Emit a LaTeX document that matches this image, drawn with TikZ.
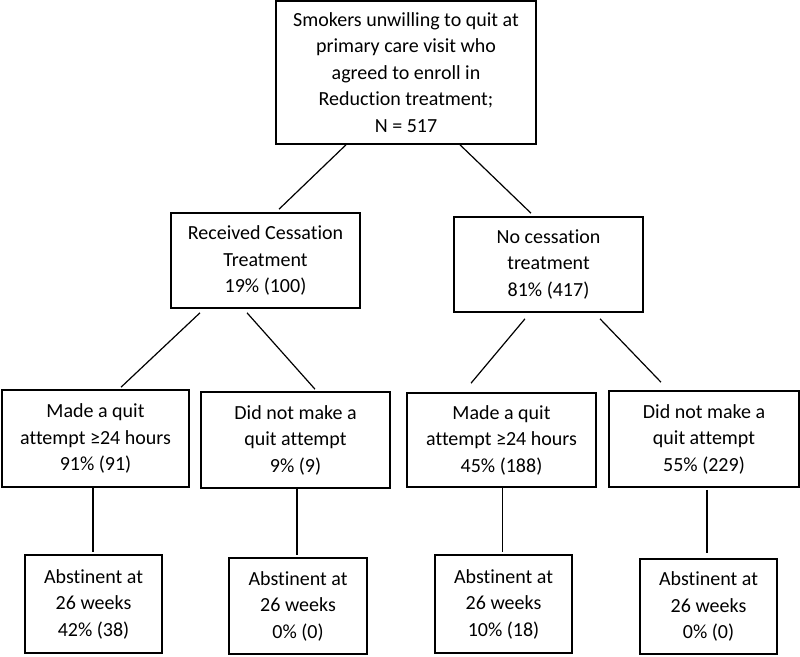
\documentclass[tikz,border=0pt]{standalone}
\usepackage{fontspec}
\setmainfont{Carlito}[Ligatures={NoCommon,NoContextual}]
\usetikzlibrary{calc}
\begin{document}
\begin{tikzpicture}[x=1pt,y=-1pt,
  box/.style={draw=black,line width=1.6pt,fill=white,inner sep=0pt,align=center,
    font=\fontsize{20}{26.5}\selectfont},
  conn/.style={draw=black,line width=1.2pt}]
\useasboundingbox (0,0) rectangle (800,656);
% boxes
\node[box,minimum width=260pt,minimum height=143pt] (top) at (406,72.5)
  {Smokers unwilling to quit at\\primary care visit who\\agreed to enroll in\\Reduction treatment;\\N = 517};
\node[box,minimum width=189pt,minimum height=95pt] (rec) at (265.5,260.5)
  {Received Cessation\\Treatment\\19\% (100)};
\node[box,minimum width=189pt,minimum height=95pt] (noc) at (548.5,264.5)
  {No cessation\\treatment\\81\% (417)};
\node[box,minimum width=187pt,minimum height=97pt] (m1) at (95.5,438.5)
  {Made a quit\\attempt ≥24 hours\\91\% (91)};
\node[box,minimum width=189pt,minimum height=96pt] (d1) at (295.5,440)
  {Did not make a\\quit attempt\\9\% (9)};
\node[box,minimum width=189pt,minimum height=94pt] (m2) at (501.5,440)
  {Made a quit\\attempt ≥24 hours\\45\% (188)};
\node[box,minimum width=190pt,minimum height=96pt] (d2) at (704,439)
  {Did not make a\\quit attempt\\55\% (229)};
\node[box,minimum width=137pt,minimum height=98pt] (a1) at (93.5,604)
  {Abstinent at\\26 weeks\\42\% (38)};
\node[box,minimum width=138pt,minimum height=96pt] (a2) at (298,606)
  {Abstinent at\\26 weeks\\0\% (0)};
\node[box,minimum width=137pt,minimum height=98pt] (a3) at (503.5,604)
  {Abstinent at\\26 weeks\\10\% (18)};
\node[box,minimum width=137pt,minimum height=95pt] (a4) at (708.5,606.5)
  {Abstinent at\\26 weeks\\0\% (0)};
% connectors
\draw[conn] ([xshift=-60pt]top.south) -- ([xshift=13.5pt,yshift=3pt]rec.north);
\draw[conn] ([xshift=54pt]top.south) -- ([xshift=-17.5pt,yshift=3pt]noc.north);
\draw[conn] ([xshift=-65.5pt,yshift=-4pt]rec.south) -- ([xshift=25.5pt,yshift=2pt]m1.north);
\draw[conn] ([xshift=-18.5pt,yshift=-4pt]rec.south) -- ([xshift=19.5pt,yshift=2pt]d1.north);
\draw[conn] ([xshift=-23.5pt,yshift=-6pt]noc.south) -- ([xshift=-30.5pt,yshift=9pt]m2.north);
\draw[conn] ([xshift=51.5pt,yshift=-6pt]noc.south) -- ([xshift=-43pt,yshift=8pt]d2.north);
\draw[conn] ([xshift=-2.5pt]m1.south) -- ([xshift=-0.5pt,yshift=2pt]a1.north);
\draw[conn] ([xshift=1.5pt]d1.south) -- ([xshift=-1pt,yshift=2pt]a2.north);
\draw[conn] ([xshift=1pt]m2.south) -- ([xshift=-1pt,yshift=2pt]a3.north);
\draw[conn] ([xshift=3pt,yshift=-2pt]d2.south) -- ([xshift=-1.5pt,yshift=5pt]a4.north);
\end{tikzpicture}
\end{document}
